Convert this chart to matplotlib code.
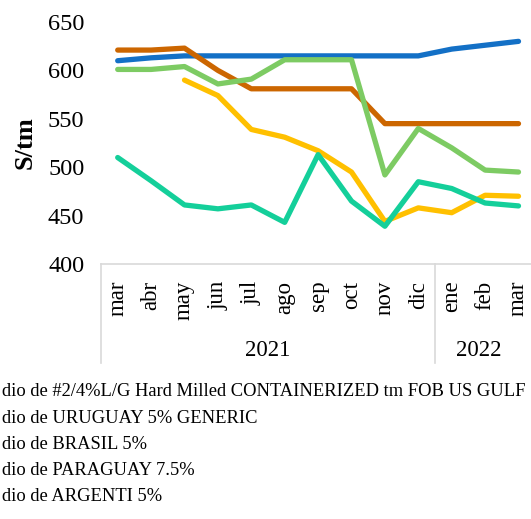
import matplotlib
matplotlib.use('Agg')
import matplotlib.pyplot as plt
import matplotlib.transforms as mtransforms

plt.rcParams['font.family'] = ['Liberation Serif', 'DejaVu Serif']

# Datos (S/tm)
meses = ['mar', 'abr', 'may', 'jun', 'jul', 'ago', 'sep', 'oct', 'nov', 'dic', 'ene', 'feb', 'mar']
anios = ['2021', '2022']
n_2021 = 10

azul = [610, 613, 615, 615, 615, 615, 615, 615, 615, 615, 622, 626, 630]
naranja = [621, 621, 623, 600, 581, 581, 581, 581, 545, 545, 545, 545, 545]
verde = [601, 601, 604, 586, 591, 611, 611, 611, 492, 540, 520, 497, 495]
amarillo = [None, None, 590, 574, 539, 531, 517, 495, 444, 458, 453, 471, 470]
turquesa = [510, 486, 461, 457, 461, 443, 513, 465, 439, 485, 478, 463, 460]

leyenda = [
    'dio de #2/4%L/G Hard Milled CONTAINERIZED tm FOB US GULF',
    'dio de URUGUAY 5% GENERIC',
    'dio de BRASIL 5%',
    'dio de PARAGUAY 7.5%',
    'dio de ARGENTI 5%',
]

W, H = 531, 519
fig = plt.figure(figsize=(W / 100, H / 100), dpi=100)
ax_left, ax_bottom, ax_top = 101, 264, 22
ax_w = 13 * 33.4
ax = fig.add_axes([ax_left / W, (H - ax_bottom) / H, ax_w / W, (ax_bottom - ax_top) / H])

x = list(range(len(meses)))
series = [
    (azul, '#1370C6'),
    (naranja, '#CC6600'),
    (verde, '#7DCB63'),
    (amarillo, '#FFC000'),
    (turquesa, '#14CF9A'),
]
for valores, color in series:
    xs = [i for i, v in zip(x, valores) if v is not None]
    ys = [v for v in valores if v is not None]
    ax.plot(xs, ys, color=color, linewidth=3.8, solid_capstyle='round',
            solid_joinstyle='round', clip_on=False)

ax.set_xlim(-0.5, len(meses) - 0.5)
ax.set_ylim(400, 650)
ax.set_yticks([400, 450, 500, 550, 600, 650])
ax.tick_params(axis='y', length=0, pad=12, labelsize=17.5)
ax.set_xticks(x)
ax.set_xticklabels(meses, rotation=90, fontsize=16.5)
ax.tick_params(axis='x', length=0, pad=12)

for s in ['left', 'right', 'top']:
    ax.spines[s].set_visible(False)
ax.spines['bottom'].set_color('#D9D9D9')
ax.spines['bottom'].set_linewidth(1.2)

ax.set_ylabel('S/tm', fontsize=19, fontweight='bold', labelpad=8)

# Separadores y etiquetas de año
trans = mtransforms.blended_transform_factory(ax.transData, ax.transAxes)
prof = -(363 - ax_bottom) / (ax_bottom - ax_top)
for xs in [-0.5, n_2021 - 0.5]:
    ax.plot([xs, xs], [0, prof], color='#D9D9D9', linewidth=1.2,
            transform=trans, clip_on=False)
y_anio = -(350 - ax_bottom) / (ax_bottom - ax_top)
ax.text((n_2021 - 1) / 2, y_anio, anios[0], transform=trans, ha='center', va='center', fontsize=16.5)
ax.text(10.8, y_anio, anios[1], transform=trans, ha='center', va='center', fontsize=16.5)

# Leyenda (recortada a la izquierda)
for i, texto in enumerate(leyenda):
    yy = 392 + i * 26.2
    fig.text(2 / W, 1 - yy / H, texto, ha='left', va='center', fontsize=13.3)

fig.savefig('out.png', dpi=100)
